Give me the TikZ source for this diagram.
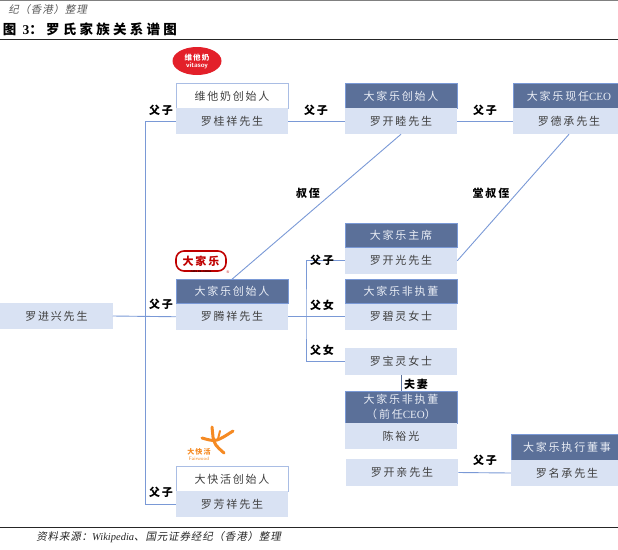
\documentclass[tikz,border=0pt]{standalone}
\usepackage{fontspec}
\usepackage{xcolor}
\usetikzlibrary{positioning, shapes.geometric}
\setmainfont{Liberation Serif}
\newfontfamily\cjk[LetterSpace=16]{Noto Sans CJK SC}
\newfontfamily\cjkslant[FakeSlant=0.2,LetterSpace=8]{Noto Sans CJK SC}
\newfontfamily\cjktitle[LetterSpace=24]{Noto Sans CJK SC}
\definecolor{lineBlue}{HTML}{7A99D6}
\definecolor{headBlue}{HTML}{5B7099}
\definecolor{nameBlue}{HTML}{D9E2F3}
\definecolor{boxText}{HTML}{404040}
\definecolor{headText}{HTML}{E9EDF5}
\definecolor{ruleDark}{HTML}{262626}
\definecolor{logoRed}{HTML}{E3202A}
\definecolor{logoOrange}{HTML}{F58A23}
\tikzstyle{nameBox} = [fill=nameBlue, text=boxText, inner sep=0, outer sep=0,
   minimum width=112.5pt, minimum height=26pt, font=\cjk\fontsize{11}{13}\selectfont]
\tikzstyle{headBox} = [draw=lineBlue, line width=0.7pt, fill=headBlue, text=headText, inner sep=0, outer sep=0,
   minimum width=112pt, minimum height=24.5pt, align=center, font=\cjk\fontsize{11}{15}\selectfont]
\tikzstyle{whiteBox} = [headBox, draw=lineBlue!65, fill=white, text=boxText]
\tikzstyle{relLine} = [draw=lineBlue, line width=0.9pt]
\tikzstyle{relLabel} = [inner sep=0, text=black, font=\cjk\bfseries\fontsize{11}{13}\selectfont]
\begin{document}
\begin{tikzpicture}[x=1pt,y=-1pt]
  \useasboundingbox (0,0) rectangle (618,549);

  % page header and footer
  \draw[gray, line width=1pt] (0,0.5) -- (618,0.5);
  \node[anchor=east, inner sep=0, text=black!65, font=\cjkslant\fontsize{10.5}{12}\selectfont] (topnote) at (87,9.5) {纪（香港）整理};
  \node[anchor=east, inner sep=0, font=\cjktitle\bfseries\fontsize{13.5}{15}\selectfont] (title) at (177,29) {图 {\rmfamily\bfseries 3}：罗氏家族关系谱图};
  \draw[ruleDark, line width=1.5pt] (0,39.5) -- (618,39.5);
  \draw[ruleDark, line width=1.5pt] (0,527.5) -- (618,527.5);
  \node[anchor=east, inner sep=0, text=black!85, font=\cjkslant\fontsize{10.5}{12}\selectfont] (source) at (281,537.5) {资料来源：{\rmfamily\itshape Wikipedia}、国元证券经纪（香港）整理};

  % people
  \node[nameBox] (jinxing) at (56.5,316) {罗进兴先生};

  \node[whiteBox] (guiHead) at (232,96) {维他奶创始人};
  \node[nameBox, below=0pt of guiHead] (gui) {罗桂祥先生};
  \node[headBox] (tengHead) at (232,291.5) {大家乐创始人};
  \node[nameBox, below=0pt of tengHead] (teng) {罗腾祥先生};
  \node[whiteBox] (fangHead) at (232,479) {大快活创始人};
  \node[nameBox, below=0pt of fangHead] (fang) {罗芳祥先生};

  \node[headBox] (muHead) at (401,96) {大家乐创始人};
  \node[nameBox, below=0pt of muHead] (mu) {罗开睦先生};
  \node[headBox] (guangHead) at (401,235.5) {大家乐主席};
  \node[nameBox, below=0pt of guangHead] (guang) {罗开光先生};
  \node[headBox] (biHead) at (401,291.5) {大家乐非执董};
  \node[nameBox, below=0pt of biHead] (bi) {罗碧灵女士};
  \node[nameBox, minimum height=27pt] (bao) at (401,361.5) {罗宝灵女士};
  \node[headBox, minimum height=32pt] (chenHead) at (401,407) {大家乐非执董\\（前任{\rmfamily CEO}）};
  \node[nameBox, below=0pt of chenHead] (chen) {陈裕光};
  \node[nameBox, minimum height=27pt] (qin) at (402,472.5) {罗开亲先生};

  \node[headBox] (deHead) at (569,96) {大家乐现任{\rmfamily CEO}};
  \node[nameBox, below=0pt of deHead] (de) {罗德承先生};
  \node[headBox, minimum height=26pt] (mingHead) at (567,447) {大家乐执行董事};
  \node[nameBox, below=0pt of mingHead] (ming) {罗名承先生};

  % logos
  \node[ellipse, fill=logoRed, minimum width=49pt, minimum height=28pt, inner sep=0] (vitasoy) at (197,61) {};
  \node[inner sep=0, text=white, font=\fontsize{7}{7}\selectfont\sffamily\bfseries, align=center] (vitasoyText) at (vitasoy) {{\cjk\fontsize{7.5}{8}\selectfont 维他奶}\\vitasoy};
  \node[draw=red!75!black, line width=1.6pt, rounded corners=8pt, minimum width=50pt, minimum height=20pt, inner sep=0, text=red!75!black, font=\cjk\bfseries\fontsize{11}{11}\selectfont] (coral) at (201,261) {大家乐};
  \node[inner sep=0, text=black, font=\sffamily\bfseries\fontsize{2.5}{3}\selectfont] (coralText) at (201,272) {CAFE DE CORAL};
  \node[inner sep=0, text=red!75!black, font=\fontsize{4}{4}\selectfont] (coralMark) at (228,272) {®};
  \draw[logoOrange, line width=3pt, line cap=round] (212,427) -- (213,437) .. controls (215,445) .. (224,453);
  \draw[logoOrange, line width=3pt, line cap=round] (202,438) .. controls (216,442) .. (233,431);
  \draw[logoOrange, line width=2pt, line cap=round] (220,431) -- (218,439);
  \node[inner sep=0, text=logoOrange, font=\cjk\bfseries\fontsize{7}{7}\selectfont] (fairwood) at (199,452) {大快活};
  \node[inner sep=0, text=logoOrange, font=\sffamily\fontsize{5}{5}\selectfont] (fairwoodText) at (199,459) {Fairwood};

  % connectors
  \coordinate (trunk) at (145.5,316);
  \coordinate (branch) at (306,317);
  \draw[relLine] (gui.west) -| (trunk) |- (fang.west);
  \draw[relLine] (jinxing.east) -- (teng.west);
  \draw[relLine] (gui.east) -- (mu.west);
  \draw[relLine] (mu.east) -- (de.west);
  \draw[relLine] (teng.east) -- (bi.west);
  \draw[relLine] (guang.west) -| (branch) |- (bao.west);
  \draw[relLine] (qin.east) -- (ming.west);
  \draw[relLine] (mu.south) -- (tengHead.north);
  \draw[relLine] (de.south) -- (guang.east);
  \draw[headBlue, line width=0.9pt] (bao.south) -- (chenHead.north);

  % relation labels
  \node[relLabel] (l1) at (161,110) {父子};
  \node[relLabel] (l2) at (161,304) {父子};
  \node[relLabel] (l3) at (161,492) {父子};
  \node[relLabel] (l4) at (316,110) {父子};
  \node[relLabel] (l5) at (485,110) {父子};
  \node[relLabel] (l6) at (322,260) {父子};
  \node[relLabel] (l7) at (322,305) {父女};
  \node[relLabel] (l8) at (322,350) {父女};
  \node[relLabel] (l9) at (308,193) {叔侄};
  \node[relLabel] (l10) at (491,193) {堂叔侄};
  \node[relLabel] (l11) at (416,384) {夫妻};
  \node[relLabel] (l12) at (485,460) {父子};
\end{tikzpicture}
\end{document}
